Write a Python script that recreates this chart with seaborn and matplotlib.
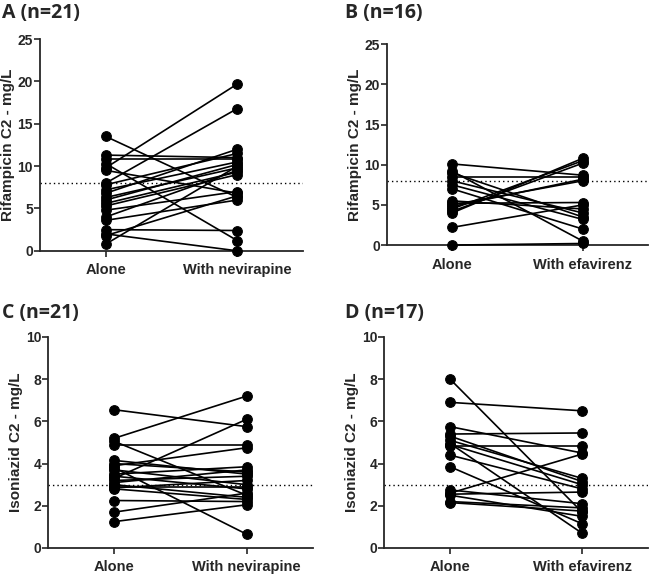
import numpy as np
import pandas as pd
import matplotlib
matplotlib.use("Agg")
import matplotlib.pyplot as plt
import seaborn as sns

# -----------------------------
# DATA
# -----------------------------
rif_nvp_alone = [13.5, 11.3, 10.8, 10.3, 9.8, 9.5, 8.0, 7.8, 7.2, 6.8, 6.3,
                 6.0, 5.6, 5.3, 4.8, 4.0, 3.6, 2.5, 2.0, 1.8, 0.8]
rif_nvp_with = [6.3, 11.0, 10.8, 1.2, 19.7, 6.8, 16.8, 11.5, 10.5, 12.0, 9.8,
                10.2, 9.3, 9.0, 7.0, 9.5, 6.0, 2.4, 0.0, 6.5, 10.0]

rif_efv_alone = [10.1, 9.2, 9.0, 8.5, 8.0, 7.5, 7.0, 5.5, 5.2, 5.0, 4.8,
                 4.5, 4.2, 4.0, 2.2, 0.0]
rif_efv_with = [8.7, 0.5, 3.5, 8.5, 4.0, 3.2, 2.0, 4.5, 5.3, 8.0, 8.2,
                10.5, 10.2, 10.8, 5.0, 0.2]

inh_nvp_alone = [6.55, 5.2, 5.05, 4.9, 4.15, 4.0, 3.9, 3.8, 3.7, 3.5, 3.4,
                 3.3, 3.2, 3.1, 3.0, 2.9, 2.85, 2.8, 2.25, 1.7, 1.25]
inh_nvp_with = [5.75, 7.2, 2.5, 4.9, 3.5, 3.6, 4.75, 0.65, 3.0, 3.85, 2.8,
                6.1, 3.4, 3.7, 2.4, 2.9, 3.2, 2.3, 2.2, 2.6, 2.05]

inh_efv_alone = [8.0, 6.9, 5.75, 5.4, 5.3, 5.1, 4.95, 4.9, 4.85, 4.4, 3.85,
                 2.75, 2.6, 2.55, 2.5, 2.2, 2.15]
inh_efv_with = [1.7, 6.5, 4.5, 5.45, 3.15, 3.3, 0.7, 3.0, 4.85, 2.8, 1.15,
                2.1, 4.45, 2.65, 1.5, 1.9, 1.75]

panel_titles = ["A (n=21)", "B (n=16)", "C (n=21)", "D (n=17)"]
x_labels = [["Alone", "With nevirapine"], ["Alone", "With efavirenz"],
            ["Alone", "With nevirapine"], ["Alone", "With efavirenz"]]
y_labels = ["Rifampicin C2 - mg/L", "Rifampicin C2 - mg/L",
            "Isoniazid C2 - mg/L", "Isoniazid C2 - mg/L"]
y_max = [25, 25, 10, 10]
y_step = [5, 5, 2, 2]
ref_level = [8, 8, 3, 3]

pairs = [(rif_nvp_alone, rif_nvp_with), (rif_efv_alone, rif_efv_with),
         (inh_nvp_alone, inh_nvp_with), (inh_efv_alone, inh_efv_with)]

# -----------------------------
# LAYOUT
# -----------------------------
sns.set_style("ticks")
plt.rcParams['font.family'] = ['Liberation Sans', 'DejaVu Sans']
plt.rcParams['font.weight'] = 'bold'

fig = plt.figure(figsize=(6.5, 5.74), dpi=100)
rects = [[0.0615, 0.563, 0.405, 0.369],
         [0.595, 0.573, 0.402, 0.350],
         [0.074, 0.0453, 0.4075, 0.3677],
         [0.591, 0.0453, 0.406, 0.3677]]
title_pos = [(0.003, 0.995), (0.531, 0.995), (0.003, 0.472), (0.531, 0.472)]

for i, (alone, withdrug) in enumerate(pairs):
    ax = fig.add_axes(rects[i])
    n = len(alone)
    df = pd.DataFrame({
        "subject": list(range(n)) * 2,
        "cond": [0] * n + [1] * n,
        "value": list(alone) + list(withdrug),
    })
    ax.axhline(ref_level[i], color="black", ls=(0, (1, 2.2)), lw=1.0, zorder=1)
    sns.lineplot(data=df, x="cond", y="value", units="subject", estimator=None,
                 color="black", lw=1.2, marker="o", markersize=7,
                 markeredgecolor="black", ax=ax, legend=False, clip_on=False,
                 zorder=3)
    ax.set_xlim(-0.5, 1.5)
    ax.set_ylim(0, y_max[i])
    ax.set_yticks(np.arange(0, y_max[i] + 1, y_step[i]))
    ax.set_xticks([0, 1])
    ax.set_xticklabels(x_labels[i], fontsize=10.5, fontweight="bold")
    ax.tick_params(axis="y", labelsize=10, length=4, width=1.2, pad=1)
    ax.tick_params(axis="x", length=4, width=1.2, pad=5)
    for lab in ax.get_yticklabels():
        lab.set_fontweight("bold")
    ax.set_xlabel("")
    ax.set_ylabel(y_labels[i], fontsize=11, fontweight="bold", labelpad=2)
    sns.despine(ax=ax)
    for s in ["left", "bottom"]:
        ax.spines[s].set_linewidth(1.3)
    fig.text(title_pos[i][0], title_pos[i][1], panel_titles[i], ha="left", va="top",
             fontsize=14, fontweight="bold", family=["Open Sans", "DejaVu Sans"])

fig.savefig("out.png", dpi=100)
